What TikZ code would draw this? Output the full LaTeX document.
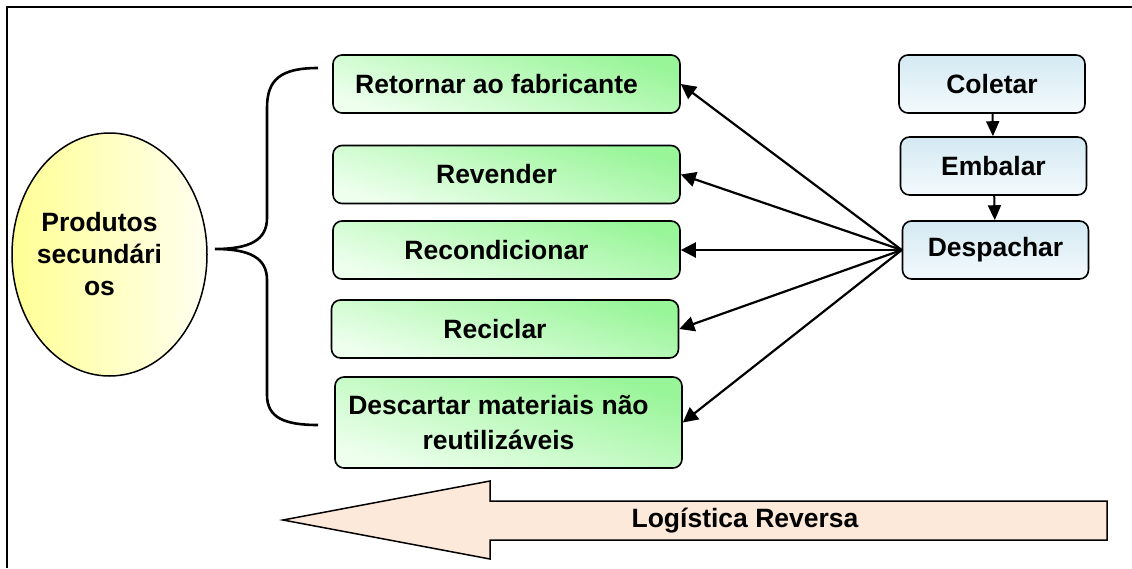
\documentclass[tikz,border=0pt]{standalone}
\usepackage{fontspec}
\setmainfont{Liberation Sans}
\usetikzlibrary{arrows.meta,shapes.geometric}
\definecolor{greenD}{HTML}{98F598}
\definecolor{greenL}{HTML}{EEFFEE}
\definecolor{blueD}{HTML}{D3E9F2}
\definecolor{blueL}{HTML}{F4FAFD}
\definecolor{yellowD}{HTML}{FFFF94}
\definecolor{yellowL}{HTML}{FFFFF0}
\definecolor{peach}{HTML}{FDE9D9}
\newcommand\txtshift{\hspace*{-20pt}}
\tikzset{
	lbl/.style={font=\bfseries\fontsize{26.5}{32}\selectfont, align=center},
	greenbox/.style={lbl, draw, line width=1.6pt, rounded corners=9pt, minimum width=347pt, minimum height=58pt, top color=greenD, bottom color=greenL, shading angle=-17},
	bluebox/.style={lbl, draw, line width=1.6pt, rounded corners=9pt, minimum width=186pt, minimum height=58pt, top color=blueD, bottom color=blueL},
	fan/.style={line width=2.2pt, -{Triangle[length=15pt,width=15pt]}},
	flow/.style={line width=2pt, -{Triangle[length=15pt,width=13pt]}}
}

\begin{document}
\begin{tikzpicture}[x=1pt, y=-1pt]
		%%%%% START %%%%%
		\useasboundingbox (0, 0) rectangle (1132, 568);
		
		% frame
		\draw[line width=1.5pt] (7, 568) -- (7, 7) -- (1132, 7);
		
		% products
		\node[lbl, ellipse, draw, line width=1.5pt, inner sep=0pt, minimum width=195pt, minimum height=243pt, left color=yellowD, right color=yellowL] (prod) at (109.5, 254.5) {\txtshift Produtos\\\txtshift secundári\\\txtshift os};
		
		% brace
		\draw[line width=2.6pt] (318, 68) .. controls (280, 68) and (267, 80) .. (267, 108) -- (267, 218)
			.. controls (267, 240) and (250, 249) .. (215, 249)
			.. controls (250, 249) and (267, 258) .. (267, 280) -- (267, 395)
			.. controls (267, 418) and (285, 425) .. (318, 425);
		
		% destinations
		\node[greenbox] (ret) at (506.5, 84) {\txtshift Retornar ao fabricante};
		\node[greenbox] (rev) at (506.5, 174.5) {\txtshift Revender};
		\node[greenbox] (recond) at (506.5, 250) {\txtshift Recondicionar};
		\node[greenbox] (recic) at (505, 329) {\txtshift Reciclar};
		\node[greenbox, minimum height=91pt, font=\bfseries\fontsize{26.5}{35}\selectfont] (desc) at (508.5, 422.5) {\txtshift Descartar materiais não\\\txtshift reutilizáveis};
		
		% steps
		\node[bluebox] (col) at (992, 84) {Coletar};
		\node[bluebox] (emb) at (993.5, 166) {Embalar};
		\node[bluebox] (desp) at (995.5, 250) {Despachar};
		
		\draw[flow] (col) -- (emb);
		\draw[flow] (emb) -- (desp);
		
		\foreach \d in {ret, rev, recond, recic, desc}
			\draw[fan] (desp.west) -- (\d.east);
		
		% reverse arrow
		\draw[line width=1.5pt, fill=peach] (283, 520) -- (490, 481) -- (490, 501) -- (1107, 501)
			-- (1107, 540) -- (490, 540) -- (490, 559) -- cycle;
		\node[lbl] (lr) at (745, 521) {Logística Reversa};
		
		%%%%% END %%%%%
	\end{tikzpicture}
\end{document}
